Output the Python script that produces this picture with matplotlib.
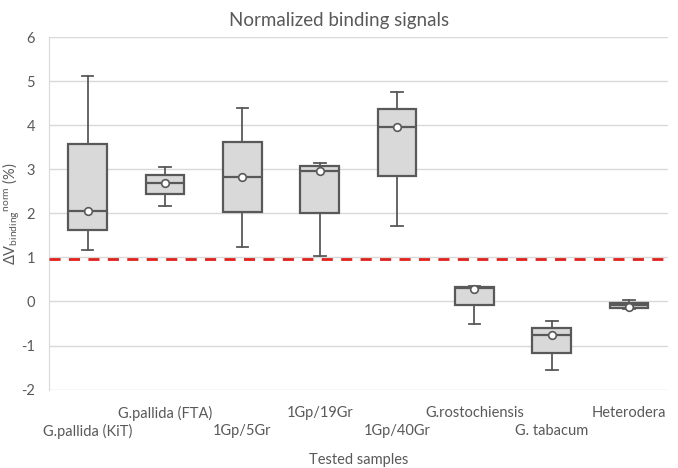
import matplotlib
matplotlib.use("Agg")
import matplotlib.pyplot as plt
from matplotlib.transforms import ScaledTranslation

categories = ["G.pallida (KiT)", "G.pallida (FTA)", "1Gp/5Gr", "1Gp/19Gr",
              "1Gp/40Gr", "G.rostochiensis", "G. tabacum", "Heterodera"]
whisker_low = [1.16, 2.17, 1.24, 1.04, 1.72, -0.50, -1.56, -0.17]
q1 = [1.62, 2.44, 2.03, 2.00, 2.85, -0.09, -1.17, -0.155]
median = [2.06, 2.70, 2.82, 2.97, 3.97, 0.31, -0.77, -0.09]
q3 = [3.59, 2.88, 3.62, 3.08, 4.37, 0.32, -0.60, -0.03]
whisker_high = [5.12, 3.06, 4.40, 3.15, 4.77, 0.35, -0.44, 0.035]
means = [2.06, 2.70, 2.82, 2.97, 3.97, 0.28, -0.77, -0.12]
threshold = 0.97
yticks = [-2, -1, 0, 1, 2, 3, 4, 5, 6]

plt.rcParams['font.family'] = ['Lato', 'DejaVu Sans']
plt.rcParams['mathtext.fontset'] = 'custom'
plt.rcParams['mathtext.rm'] = 'Lato'
plt.rcParams['mathtext.it'] = 'Lato'

txt = '#595959'
edge = '#595959'

fig = plt.figure(figsize=(6.78, 4.68), dpi=100)
ax = fig.add_axes([0.0723, 0.1677, 0.9127, 0.7523])

stats = []
for i, c in enumerate(categories):
    stats.append(dict(label=c, whislo=whisker_low[i], q1=q1[i], med=median[i],
                      q3=q3[i], whishi=whisker_high[i], mean=means[i], fliers=[]))

pos = list(range(1, len(categories) + 1))
ax.bxp(stats, positions=pos, widths=0.5, showmeans=True, patch_artist=True,
       boxprops=dict(facecolor='#d9d9d9', edgecolor=edge, linewidth=1.6),
       medianprops=dict(color=edge, linewidth=1.6),
       whiskerprops=dict(color=edge, linewidth=1.3),
       capprops=dict(color=edge, linewidth=1.3),
       capwidths=0.15,
       meanprops=dict(marker='o', markerfacecolor='white', markeredgecolor=edge,
                      markersize=5.5, markeredgewidth=1.2),
       zorder=3)

ax.axhline(threshold, color='#e0201b', linestyle=(0, (4, 3)), linewidth=2, zorder=4)

ax.set_xlim(0.5, len(categories) + 0.5)
ax.set_ylim(-2, 6)
ax.set_yticks(yticks)
ax.set_yticklabels([str(t) for t in yticks])
ax.yaxis.grid(True, color='#d9d9d9', linewidth=1)
ax.set_axisbelow(True)
for s in ['top', 'right', 'bottom']:
    ax.spines[s].set_visible(False)
ax.spines['left'].set_color('#d9d9d9')
ax.tick_params(axis='y', length=0, pad=10, labelcolor=txt, labelsize=10.5)
ax.set_xticks(pos)
ax.set_xticklabels(categories, color=txt, fontsize=10.5)
ax.tick_params(axis='x', length=0, pad=12)
for i, lab in enumerate(ax.get_xticklabels()):
    if i % 2 == 0:
        lab.set_transform(lab.get_transform() + ScaledTranslation(0, -0.175, fig.dpi_scale_trans))

ax.set_xlabel("Tested samples", color=txt, fontsize=10.5, va='center')
ax.xaxis.set_label_coords(0.5, -0.20)
ax.set_ylabel(r'ΔV$_{\mathrm{binding}}$$^{\mathrm{norm}}$ (%)', color=txt, fontsize=10.5)
ax.yaxis.set_label_coords(-0.043, 0.5)
fig.text(0.5, 0.975, "Normalized binding signals", ha='center', va='top',
         color=txt, fontsize=13.5)

fig.savefig("out.png", dpi=100)
